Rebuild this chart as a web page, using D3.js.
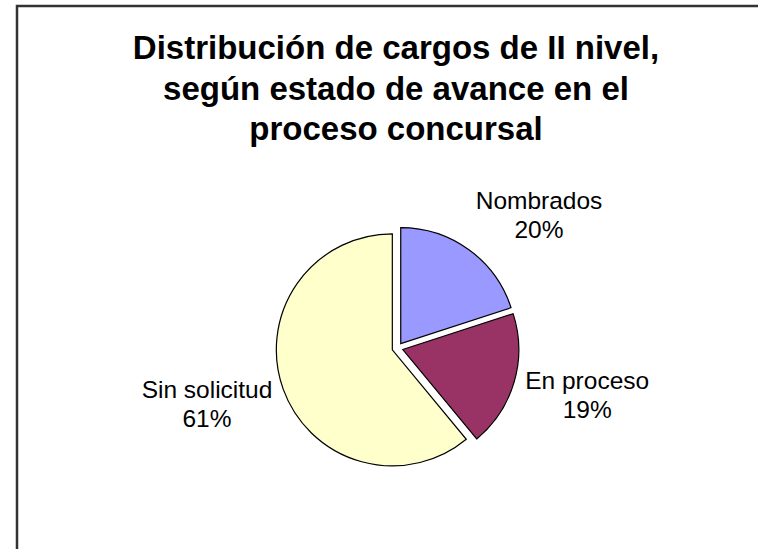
<!DOCTYPE html>
<html>
  <head>
    <meta charset="utf-8">
    <script src="https://d3js.org/d3.v7.min.js"></script>

    <style>
      body {
        margin: 0;
        background: #fff;
      }
      svg {
        display: block;
      }
    </style>

    <script type="text/javascript">

        "use strict";

        // chart data
        var categories = ["Nombrados", "En proceso", "Sin solicitud"];
        var values = [20, 19, 61];
        var colors = ["#9999ff", "#993366", "#ffffcc"];
        var titleLines = [
            "Distribución de cargos de II nivel,",
            "según estado de avance en el",
            "proceso concursal"
        ];

        function draw() {

            var width = 758,
              height = 549,
              cx = 397.5,
              cy = 348,
              radius = 116,
              explode = 5.5,
              labelRadius = 133,
              labelHeight = 64;

            var svg = d3.select("body")
                .append("svg")
                .attr("width", width)
                .attr("height", height);

            // chart frame (cropped on the right and bottom)
            svg.append("rect")
                .attr("x", 17)
                .attr("y", 6)
                .attr("width", 900)
                .attr("height", 700)
                .style("fill", "none")
                .style("stroke", "#333")
                .style("stroke-width", 2.5);

            // title
            svg.append("text")
                .attr("x", 396)
                .attr("y", 59)
                .style("font-family", "'Liberation Sans', Arial, sans-serif")
                .style("font-weight", "bold")
                .style("font-size", "33px")
                .style("text-anchor", "middle")
                .selectAll("tspan")
                .data(titleLines)
                .enter()
                .append("tspan")
                .attr("x", 396)
                .attr("dy", function(d, i) { return i === 0 ? 0 : 40.5; })
                .text(function(d) { return d; });

            var data = categories.map(function(c, i) {
                return { name: c, value: values[i], color: colors[i] };
            });
            var total = d3.sum(values);
            var pct = d3.format(".0%");

            var pie = d3.pie()
                .sort(null)
                .value(function(d) { return d.value; });

            var arcs = pie(data);

            var arc = d3.arc().innerRadius(0).outerRadius(radius);
            var explodeArc = d3.arc().innerRadius(explode).outerRadius(explode);
            var labelArc = d3.arc().innerRadius(labelRadius).outerRadius(labelRadius);

            var g = svg.append("g")
                .attr("transform", "translate(" + cx + "," + cy + ")");

            // slices, pulled out along their mid angle
            g.selectAll("path")
                .data(arcs)
                .enter()
                .append("path")
                .attr("transform", function(d) {
                    var o = explodeArc.centroid(d);
                    return "translate(" + o[0] + "," + o[1] + ")";
                })
                .attr("d", arc)
                .style("fill", function(d) { return d.data.color; })
                .style("stroke", "#000")
                .style("stroke-width", 1.2);

            // data labels outside the pie
            var labels = g.selectAll("text.label")
                .data(arcs)
                .enter()
                .append("text")
                .attr("class", "label")
                .style("font-family", "'Liberation Sans', Arial, sans-serif")
                .style("font-size", "24.5px")
                .style("text-anchor", "middle")
                .style("fill", "#000");

            labels.append("tspan")
                .attr("x", 0)
                .attr("y", -5.5)
                .text(function(d) { return d.data.name; });

            labels.append("tspan")
                .attr("x", 0)
                .attr("y", 23.5)
                .text(function(d) { return pct(d.data.value / total); });

            labels.attr("transform", function(d) {
                var p = labelArc.centroid(d),
                  r = Math.sqrt(p[0] * p[0] + p[1] * p[1]),
                  ux = p[0] / r,
                  uy = p[1] / r,
                  w = this.getBBox().width;
                var x = p[0] + (ux >= 0 ? 1 : -1) * w / 2,
                  y = p[1] + uy * labelHeight / 2;
                return "translate(" + x + "," + y + ")";
            });
        }

    </script>

  </head>
<body>
    <script type="text/javascript">
        draw();
    </script>
</body>
</html>
